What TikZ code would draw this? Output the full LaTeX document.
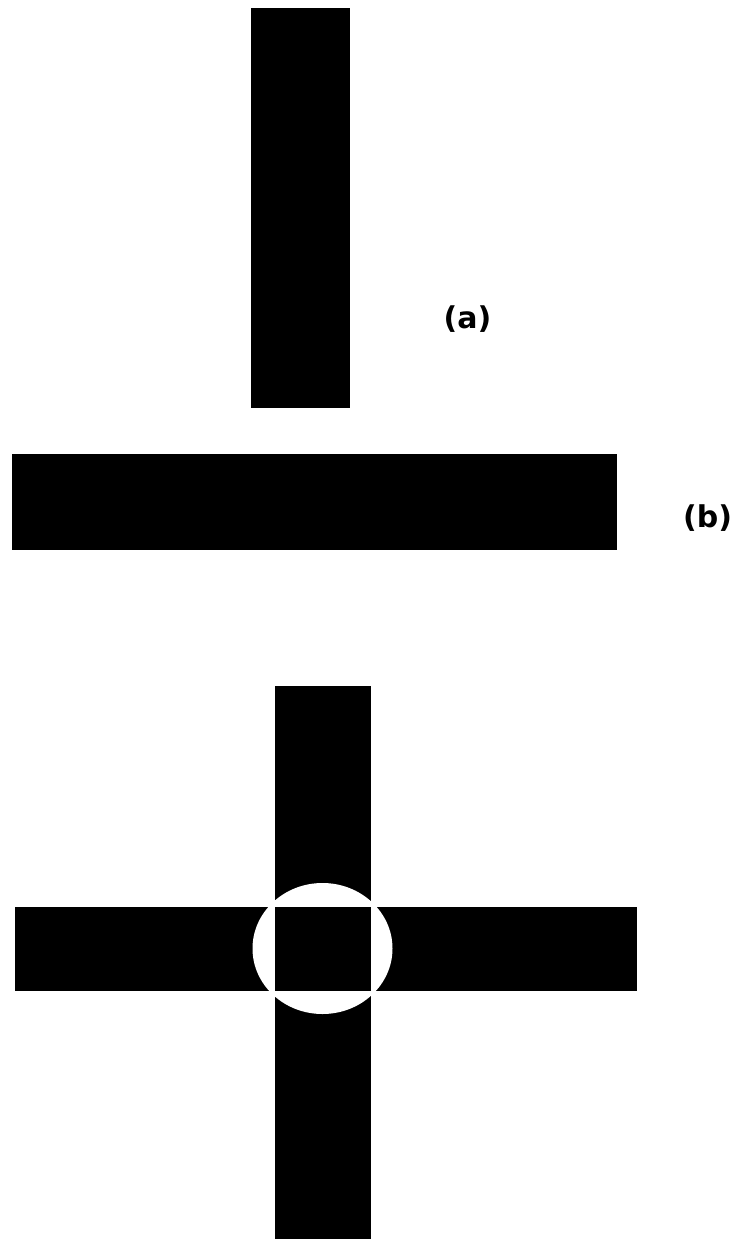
\documentclass[tikz,border=0pt]{standalone}
\usepackage{fontspec}
\setmainfont{DejaVu Sans}
\begin{document}
\begin{tikzpicture}[x=1pt,y=-1pt,
  bar/.style={fill=black},
  lbl/.style={font=\fontsize{30}{34}\selectfont\bfseries, inner sep=0pt}]
\useasboundingbox (0,0) rectangle (738,1239);
\fill[white] (0,0) rectangle (738,1239);
% (a) vertical bar
\fill[bar] (251,8) rectangle (350,408);
\node[lbl] (la) at (467.5,319) {(a)};
% (b) horizontal bar
\fill[bar] (12,454) rectangle (617,550);
\node[lbl] (lb) at (707.5,518.5) {(b)};
% cross
\fill[bar] (274.5,686) rectangle (370.5,1239);
\fill[bar] (15,907) rectangle (637,991);
\fill[white] (322.5,948.5) ellipse [x radius=70, y radius=65.5];
\fill[bar] (274.5,907) rectangle (370.5,991);
\end{tikzpicture}
\end{document}
